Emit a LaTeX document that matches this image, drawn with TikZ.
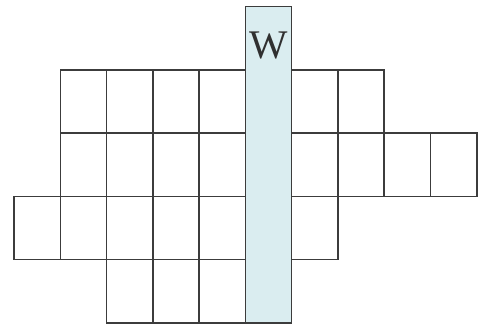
\documentclass[tikz,border=0pt]{standalone}
\usepackage{fontspec}
\setmainfont{Liberation Serif}
\usepackage{xcolor}
\usepackage{tikz}
\usetikzlibrary{positioning}
\definecolor{gridline}{HTML}{3C3C3C}
\definecolor{keyfill}{HTML}{DAEDF0}

\begin{document}
\begin{tikzpicture}[
    x=1cm, y=1.368cm,
    cell/.style={draw=gridline, line width=0.95pt, minimum width=1cm, minimum height=1.368cm, inner sep=0pt, anchor=south west},
    keycol/.style={cell, fill=keyfill, minimum height=6.84cm},
    letter/.style={inner sep=0pt, text=gridline!80!black, font=\fontsize{25}{29}\selectfont}
]
    \useasboundingbox (-0.287cm,-0.08cm) rectangle (10.043cm,6.997cm);

    % rows from the bottom up
    \foreach \c in {2,3,4} \node[cell] (c0-\c) at (\c,0) {};
    \foreach \c in {0,1,2,3,4,6} \node[cell] (c1-\c) at (\c,1) {};
    \foreach \c in {1,2,3,4,6,7,8,9} \node[cell] (c2-\c) at (\c,2) {};
    \foreach \c in {1,2,3,4,6,7} \node[cell] (c3-\c) at (\c,3) {};

    % shaded column
    \node[keycol] (key) at (5,0) {};
    \node[letter, below=0.55cm of key.north] (w) {W};
\end{tikzpicture}
\end{document}
